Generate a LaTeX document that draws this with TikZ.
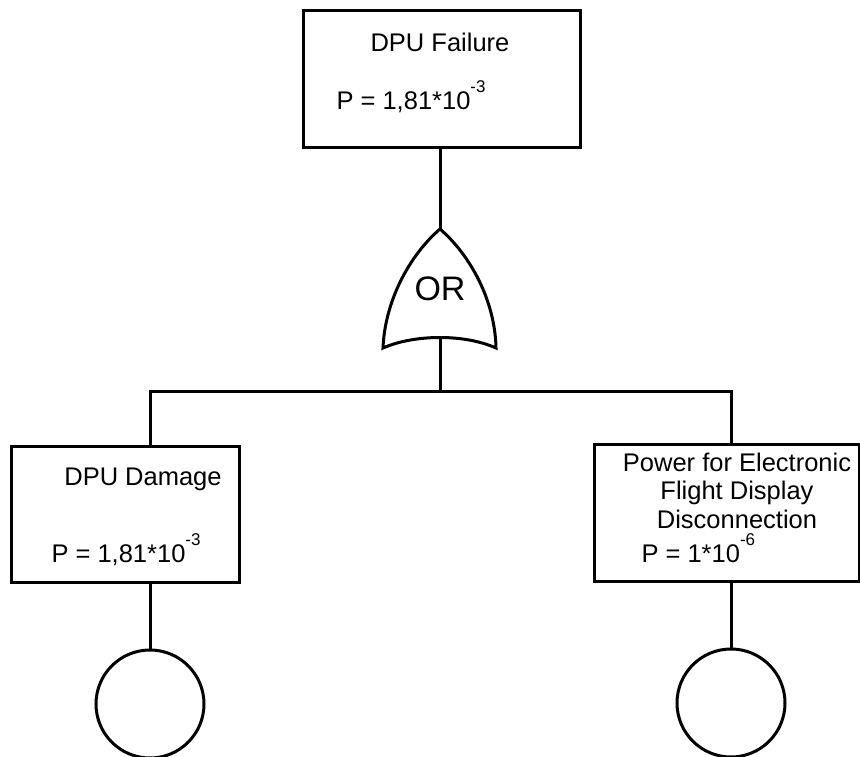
\documentclass[tikz,border=0pt]{standalone}
\usepackage{fontspec}
\setmainfont{Liberation Sans}
\newcommand\supx[1]{\raisebox{17pt}{\fontsize{17}{17}\selectfont #1}}
\begin{document}
\begin{tikzpicture}[x=1pt,y=-1pt,
  line width=3pt,
  evbox/.style={draw,rectangle,inner sep=0pt,anchor=north west},
  lbl/.style={inner sep=0pt,font=\fontsize{25.5}{25.5}\selectfont},
  basic/.style={draw,circle,inner sep=0pt,minimum size=108pt},
  wire/.style={line width=3pt}]
\useasboundingbox (0,0) rectangle (860,757);
\fill[white] (0,0) rectangle (860,757);
% boxes
\node[evbox,minimum width=277pt,minimum height=137pt] (top) at (302,9) {};
\node[evbox,minimum width=228pt,minimum height=136pt] (left) at (10,445) {};
\node[evbox,minimum width=265pt,minimum height=137pt] (right) at (593,443) {};
% texts
\node[lbl,anchor=base] (t1) at (440,52) {DPU Failure};
\node[lbl,anchor=base west] (p1) at (335,110) {P = 1,81*10\supx{-3}};
\node[lbl,anchor=base] (t2) at (143,485) {DPU Damage};
\node[lbl,anchor=base west] (p2) at (50,562) {P = 1,81*10\supx{-3}};
\node[lbl,anchor=base] (t3a) at (737,471) {Power for Electronic};
\node[lbl,anchor=base] (t3b) at (737,499) {Flight Display};
\node[lbl,anchor=base] (t3c) at (737,528) {Disconnection};
\node[lbl,anchor=base west] (p3) at (640,562) {P = 1*10\supx{-6}};
% OR gate
\coordinate (gtop) at (440,229);
\coordinate (gbot) at (440,337);
\draw[line join=miter] (gtop) .. controls (410,255) and (385,300) .. (383,348)
  .. controls (415,334) and (465,334) .. (496,348)
  .. controls (495,300) and (470,255) .. (gtop);
\node[inner sep=0pt,font=\fontsize{34}{34}\selectfont] (or) at (440,289) {OR};
% circles
\node[basic] (c1) at (150,704) {};
\node[basic] (c2) at (731,703) {};
% connectors
\coordinate (bar) at (440,391);
\draw[wire] (top.south -| gtop) -- (gtop);
\draw[wire] (gbot) -- (bar);
\draw[wire] (150,0 |- left.north) -- (150,391) -- (731,391) -- (731,0 |- right.north);
\draw[wire] (c1.north |- left.south) -- (c1.north);
\draw[wire] (c2.north |- right.south) -- (c2.north);
\end{tikzpicture}
\end{document}
